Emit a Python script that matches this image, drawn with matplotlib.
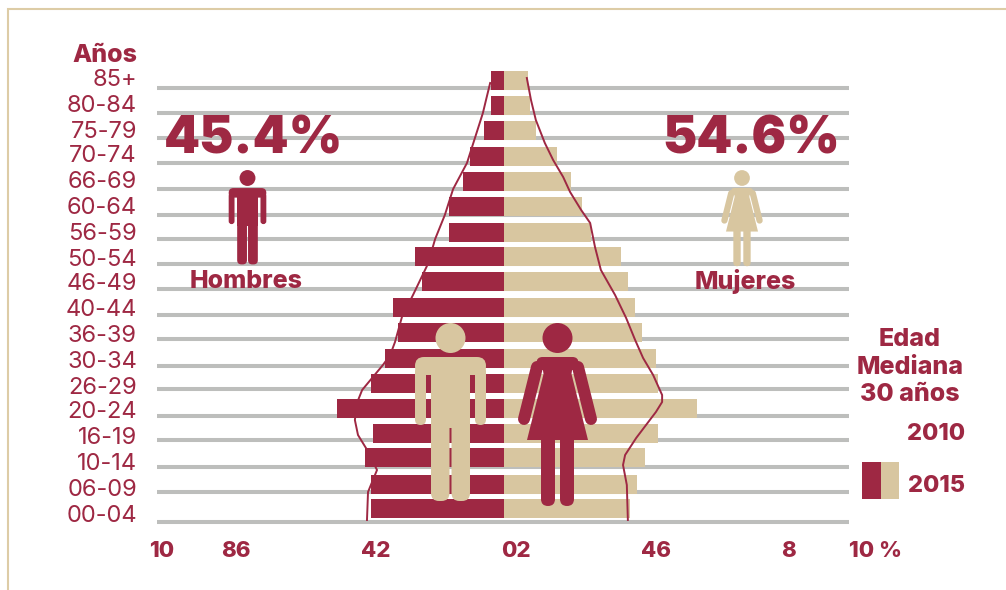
import matplotlib
matplotlib.use("Agg")
import matplotlib.pyplot as plt
from matplotlib.patches import Circle, FancyBboxPatch, Polygon, Rectangle

FONT = ["Inter", "DejaVu Sans"]
plt.rcParams["font.family"] = FONT

CRIMSON = "#9E2843"
TAN = "#D8C6A0"
GRAY = "#BDBEBC"
FRAME = "#DDCCA6"

age_groups = ["85+", "80-84", "75-79", "70-74", "66-69", "60-64", "56-59", "50-54", "46-49",
              "40-44", "36-39", "30-34", "26-29", "20-24", "16-19", "10-14", "06-09", "00-04"]
men_2015 = [0.38, 0.38, 0.58, 0.98, 1.18, 1.59, 1.59, 2.57, 2.37,
            3.21, 3.06, 3.44, 3.84, 4.83, 3.79, 4.02, 3.84, 3.84]
women_2015 = [0.69, 0.75, 0.92, 1.53, 1.94, 2.25, 2.51, 3.38, 3.58,
              3.79, 3.99, 4.39, 4.45, 5.58, 4.45, 4.08, 3.84, 3.64]
men_2010_pct = [0.40, 0.52, 0.61, 0.84, 1.07, 1.47, 1.71, 1.99, 2.20, 2.63, 2.95,
                3.15, 3.29, 3.50, 4.10, 4.25, 4.31, 4.22, 3.99, 3.67, 3.93, 3.96]
men_2010_row = [83, 100, 113, 138, 163, 189, 215, 239, 264, 295, 317,
                342, 355, 365, 390, 403, 420, 435, 448, 470, 492, 520]
women_2010_pct = [0.66, 0.78, 0.92, 1.18, 1.42, 1.71, 1.91, 2.23, 2.49, 2.63, 2.80, 3.21,
                  3.53, 3.79, 4.02, 4.31, 4.57, 4.57, 4.39, 3.82, 3.50, 3.44, 3.55, 3.58]
women_2010_row = [78, 100, 120, 143, 160, 177, 192, 210, 223, 247, 270, 295,
                  318, 340, 358, 375, 395, 402, 412, 438, 455, 465, 485, 520]
x_tick_labels = ["10", "86", "42", "02", "46", "8", "10 %"]

bar_centers = [80.5, 105.5, 130.5, 156.5, 181.5, 206.5, 232.5, 256.5, 281.5,
               307.5, 332.5, 358.5, 383.5, 408.5, 433.5, 457.5, 484.5, 508.5]
grid_rows = [88, 113, 138, 163, 189, 215, 239, 264, 289,
             315, 339, 366, 389, 416, 440, 467, 492, 522]
label_rows = [77, 103, 129, 154, 180, 205, 231, 257, 282,
              308, 333, 359, 385, 410, 436, 461, 487, 513]
tick_px = [162, 236, 376, 516, 656, 789, 876]

fig = plt.figure(figsize=(10.06, 5.90), dpi=100, facecolor="white")

ax = fig.add_axes([0, 0, 1, 1])
ax.set_xlim(-504 / 34.6, (1006 - 504) / 34.6)
ax.set_ylim(590, 0)
ax.axis("off")
ax.hlines(grid_rows, -10.03, 9.97, color=GRAY, lw=2.9, zorder=1)
ax.plot([-v for v in men_2010_pct], men_2010_row, color=CRIMSON, lw=1.4, zorder=2, solid_joinstyle="round")
ax.barh(bar_centers, [-v for v in men_2015], height=19, color=CRIMSON, lw=0, zorder=3)
ax.barh(bar_centers, women_2015, height=19, color=TAN, lw=0, zorder=3)
ax.plot(women_2010_pct, women_2010_row, color=CRIMSON, lw=1.4, zorder=4, solid_joinstyle="round")

ov = fig.add_axes([0, 0, 1, 1])
ov.patch.set_alpha(0)
ov.set_xlim(0, 1006)
ov.set_ylim(590, 0)
ov.axis("off")

ov.plot([8, 8, 1006], [590, 8.5, 8.5], color=FRAME, lw=1.5, solid_joinstyle="miter")


def rrect(x0, y0, x1, y1, r, color):
    ov.add_patch(FancyBboxPatch((x0 + r, y0 + r), x1 - x0 - 2 * r, y1 - y0 - 2 * r,
                                boxstyle=f"round,pad={r},rounding_size={r}",
                                fc=color, ec="none", lw=0, zorder=5))


def man(cx, cy, s, color):
    ov.add_patch(Circle((cx, cy), 15 * s, fc=color, ec="none", zorder=5))
    rrect(cx - 35.5 * s, cy + 19 * s, cx + 35.5 * s, cy + 37 * s, 9 * s, color)
    ov.add_patch(Rectangle((cx - 19.5 * s, cy + 25 * s), 39 * s, 65 * s, fc=color, ec="none", zorder=5))
    rrect(cx - 35.5 * s, cy + 28 * s, cx - 24.5 * s, cy + 87 * s, 5.5 * s, color)
    rrect(cx + 24.5 * s, cy + 28 * s, cx + 35.5 * s, cy + 87 * s, 5.5 * s, color)
    rrect(cx - 19.5 * s, cy + 70 * s, cx - 1 * s, cy + 163 * s, 8 * s, color)
    rrect(cx + 1 * s, cy + 70 * s, cx + 19.5 * s, cy + 163 * s, 8 * s, color)


def woman(cx, cy, s, color):
    ov.add_patch(Circle((cx, cy), 15 * s, fc=color, ec="none", zorder=5))
    rrect(cx - 21 * s, cy + 19 * s, cx + 21 * s, cy + 32 * s, 6 * s, color)
    ov.add_patch(Polygon([(cx - 16 * s, cy + 22 * s), (cx + 16 * s, cy + 22 * s), (cx + 14 * s, cy + 36 * s),
                          (cx + 30.5 * s, cy + 102 * s), (cx - 30.5 * s, cy + 102 * s), (cx - 14 * s, cy + 36 * s)],
                         fc=color, ec="none", zorder=5))
    lw = 12 * s * 0.72
    for d in (-1, 1):
        ov.plot([cx + d * 20.5 * s, cx + d * 33.5 * s], [cy + 29 * s, cy + 81 * s],
                color=color, lw=lw, solid_capstyle="round", zorder=5)
    rrect(cx - 16.5 * s, cy + 95 * s, cx - 2.5 * s, cy + 168 * s, 7 * s, color)
    rrect(cx + 2.5 * s, cy + 95 * s, cx + 16.5 * s, cy + 168 * s, 7 * s, color)


man(450.5, 338, 1, TAN)
man(247.5, 178, 0.53, CRIMSON)
woman(557.5, 338, 1, CRIMSON)
woman(742, 178, 0.525, TAN)


def txt(x, y, s, size, weight="heavy", ha="center"):
    ov.text(x, y, s, fontsize=size, fontweight=weight, color=CRIMSON, ha=ha, va="center_baseline", zorder=6)


txt(137, 53, "Años", 18, ha="right")
for label, row in zip(age_groups, label_rows):
    txt(137, row, label, 17, weight="normal", ha="right")
for label, px in zip(x_tick_labels, tick_px):
    txt(px, 549, label, 16)
txt(254, 135, "45.4%", 37, weight="black")
txt(751, 135, "54.6%", 37, weight="black")
txt(246, 279, "Hombres", 18)
txt(745, 279, "Mujeres", 18)
txt(910, 337, "Edad", 18)
txt(910, 365, "Mediana", 18)
txt(910, 392, "30 años", 18)
txt(965, 432, "2010", 17, ha="right")
txt(965, 483, "2015", 17, ha="right")

ov.add_patch(Rectangle((862, 462), 19, 37, fc=CRIMSON, ec="none"))
ov.add_patch(Rectangle((881, 462), 18, 37, fc=TAN, ec="none"))

fig.savefig("out.png", dpi=100)
